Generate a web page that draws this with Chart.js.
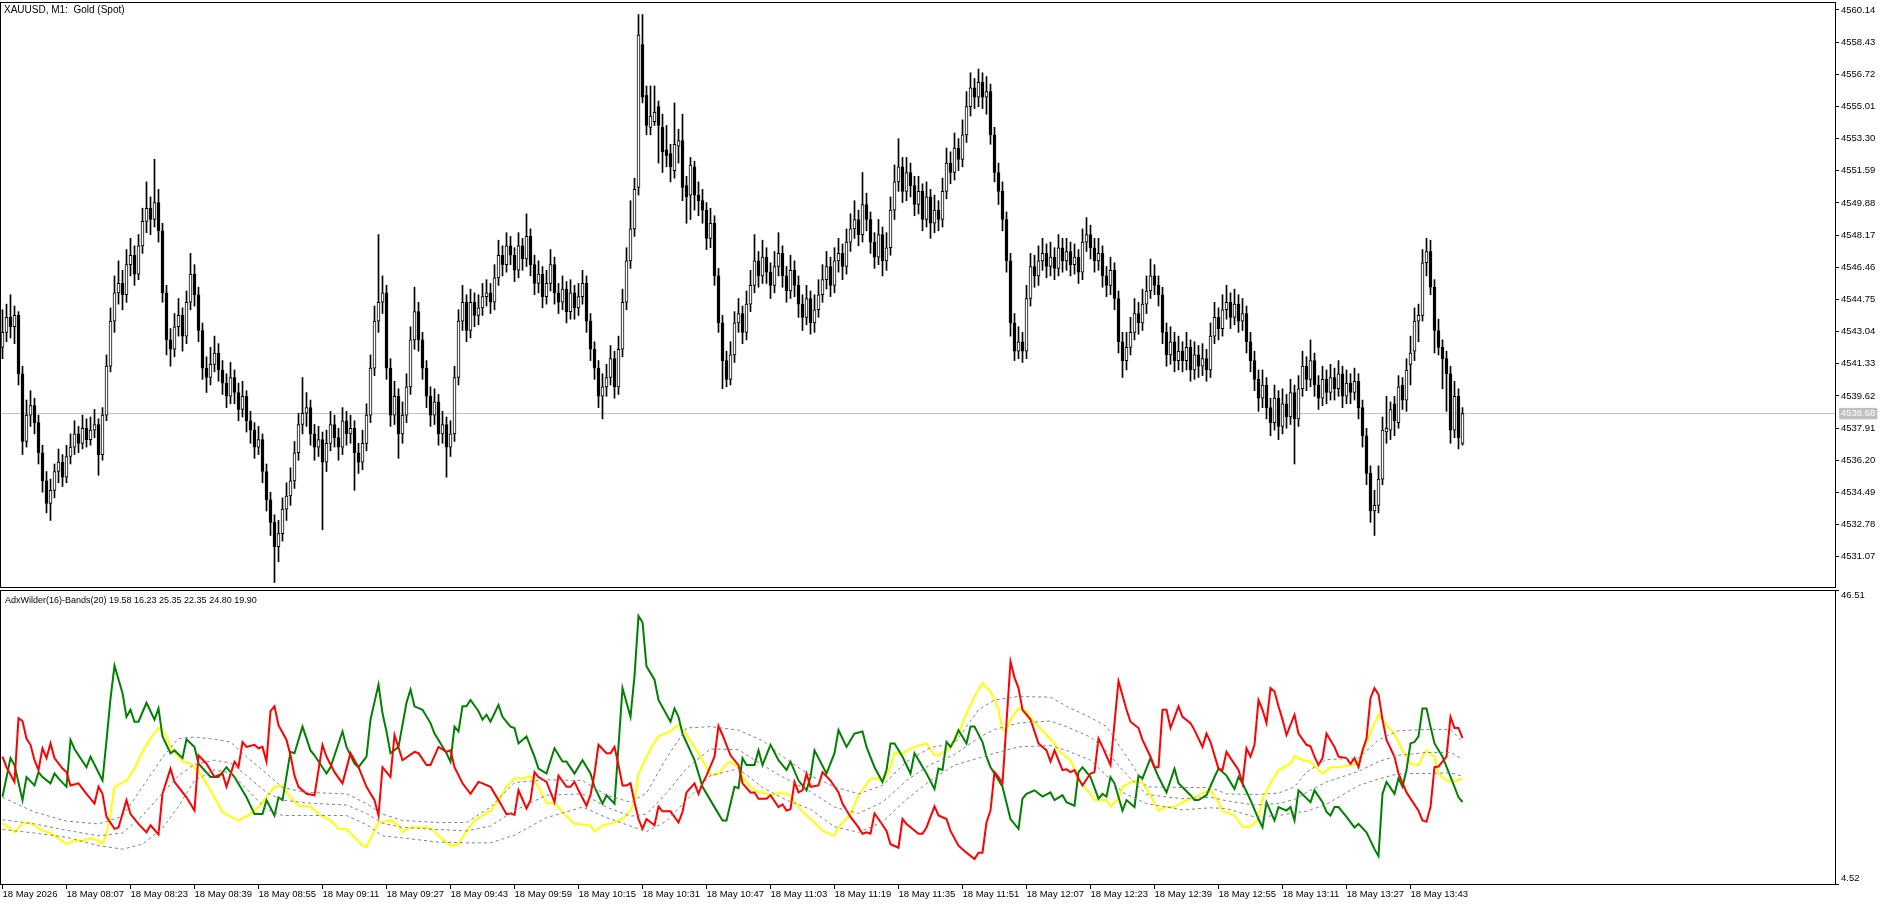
<!DOCTYPE html>
<html><head><meta charset="utf-8">
<script src="https://cdn.jsdelivr.net/npm/chart.js@4.4.1/dist/chart.umd.min.js"></script>
<style>
html,body{margin:0;padding:0;background:#fff;width:1888px;height:905px;overflow:hidden;}
canvas{position:absolute;left:0;}
#c1{top:0;}
#c2{top:589px;}
.lbl{position:absolute;font-family:"Liberation Sans",Arial,sans-serif;color:#000;white-space:pre;line-height:11px;}
</style></head><body>
<canvas id="c1" width="1888" height="588"></canvas>
<canvas id="c2" width="1888" height="316"></canvas>
<div class="lbl" style="left:4px;top:4px;font-size:10px">XAUUSD, M1:  Gold (Spot)</div>
<div class="lbl" style="left:5px;top:595px;font-size:9px">AdxWilder(16)-Bands(20) 19.58 16.23 25.35 22.35 24.80 19.90</div>
<script>
// ---------- DATA ----------
const timeLabels = ["18 May 2026","18 May 08:07","18 May 08:23","18 May 08:39","18 May 08:55","18 May 09:11","18 May 09:27","18 May 09:43","18 May 09:59","18 May 10:15","18 May 10:31","18 May 10:47","18 May 11:03","18 May 11:19","18 May 11:35","18 May 11:51","18 May 12:07","18 May 12:23","18 May 12:39","18 May 12:55","18 May 13:11","18 May 13:27","18 May 13:43"];
const timeTickBars = [0,16,32,48,64,80,96,112,128,144,160,176,192,208,224,240,256,272,288,304,320,336,352];
const priceTicks = [4531.07,4532.78,4534.49,4536.20,4537.91,4539.62,4541.33,4543.04,4544.75,4546.46,4548.17,4549.88,4551.59,4553.30,4555.01,4556.72,4558.43,4560.14];
const bidPrice = 4538.68;
const indMax = 46.51, indMin = 4.52;
const indScaleLabels = ["46.51","4.52"];

const opens = [
4542.2,4543.0,4543.8,4543.3,4543.9,4540.8,4537.2,4538.6,4539.1,4538.2,
4536.6,4535.1,4533.9,4534.6,4535.6,4536.1,4535.3,4536.4,4536.9,4537.6,
4537.1,4537.9,4537.3,4537.8,4538.1,4536.5,4538.6,4541.2,4543.6,4545.1,
4545.6,4545.0,4546.6,4547.1,4546.1,4547.6,4548.9,4549.6,4549.0,4549.9,
4548.4,4545.1,4542.6,4542.1,4543.3,4543.9,4542.8,4544.6,4546.1,4545.0,
4543.1,4541.1,4540.6,4541.3,4541.9,4541.0,4540.3,4539.6,4540.6,4539.8,
4538.9,4539.6,4538.3,4537.8,4536.9,4537.3,4535.6,4534.1,4532.9,4531.6,
4532.3,4533.6,4534.3,4535.1,4536.6,4538.1,4538.7,4539.0,4537.6,4536.9,
4537.3,4536.1,4537.1,4538.1,4537.4,4536.9,4538.3,4537.6,4537.9,4536.6,
4536.1,4537.1,4538.6,4541.1,4543.6,4544.6,4545.1,4541.1,4538.6,4539.6,
4537.6,4538.6,4540.1,4542.6,4544.1,4542.6,4541.1,4539.6,4538.6,4539.3,
4537.6,4538.1,4536.9,4537.6,4540.6,4543.6,4544.6,4543.1,4544.6,4543.9,
4544.3,4544.9,4545.1,4544.6,4545.9,4547.1,4546.6,4547.6,4547.1,4546.3,
4547.6,4546.9,4548.1,4546.6,4545.6,4546.1,4544.9,4545.6,4546.6,4545.1,
4544.6,4545.3,4544.1,4545.1,4544.3,4544.9,4545.6,4543.6,4542.1,4541.1,
4539.6,4540.1,4540.6,4541.6,4540.1,4542.1,4544.6,4546.8,4548.5,4550.7,
4558.3,4555.6,4553.9,4554.2,4555.0,4553.9,4552.7,4552.5,4551.6,4552.9,
4553.2,4550.8,4550.3,4551.8,4550.3,4550.0,4549.5,4548.0,4548.8,4546.0,
4543.5,4541.5,4540.5,4541.8,4543.5,4544.0,4543.0,4544.5,4545.5,4546.8,
4546.0,4547.0,4546.2,4545.5,4546.5,4547.2,4546.0,4545.2,4546.3,4545.5,
4544.5,4543.8,4544.8,4543.5,4544.2,4545.0,4545.8,4546.5,4545.5,4546.8,
4547.2,4546.5,4547.8,4548.5,4549.0,4548.2,4549.8,4549.0,4547.8,4547.0,
4548.2,4546.8,4547.5,4549.5,4551.0,4551.8,4550.5,4551.5,4550.8,4549.8,
4550.5,4549.0,4550.2,4548.8,4549.5,4549.0,4550.5,4552.0,4551.5,4552.8,
4552.2,4553.5,4555.0,4556.0,4555.5,4556.3,4555.5,4555.8,4553.5,4551.5,
4550.5,4549.0,4546.8,4543.5,4542.0,4542.5,4542.0,4544.8,4546.5,4546.0,
4546.8,4547.2,4546.5,4547.0,4546.4,4547.5,4546.8,4547.3,4546.6,4547.0,
4546.2,4547.8,4548.2,4547.5,4546.8,4547.2,4546.0,4545.5,4546.3,4544.8,
4542.5,4541.5,4542.2,4543.0,4544.0,4543.5,4544.5,4545.2,4546.0,4545.5,
4545.0,4543.0,4541.8,4542.5,4541.5,4542.0,4541.5,4542.2,4541.0,4541.8,
4541.2,4541.6,4541.0,4542.8,4543.8,4543.2,4544.2,4544.6,4543.8,4544.5,
4543.6,4544.0,4542.5,4541.5,4540.5,4539.5,4540.2,4539.0,4538.2,4539.5,
4538.0,4539.2,4538.5,4539.8,4538.4,4540.0,4541.2,4540.5,4541.5,4540.2,
4539.5,4540.5,4539.8,4540.6,4540.0,4540.8,4539.6,4540.3,4539.8,4540.4,
4539.0,4537.5,4535.5,4533.5,4533.8,4535.2,4537.7,4537.8,4539.2,4538.2,
4540.2,4539.4,4541.3,4542.0,4543.6,4543.9,4546.7,4547.3,4545.4,4543.1,
4542.2,4541.6,4540.8,4537.8,4539.6,4537.1];

const highs = [
4544.2,4544.5,4545.0,4544.4,4544.1,4541.2,4539.4,4539.9,4539.5,4538.6,
4537.0,4535.6,4535.2,4536.0,4536.8,4536.5,4537.0,4537.6,4538.3,4538.0,
4538.6,4538.4,4538.5,4538.9,4538.4,4539.0,4541.8,4544.3,4546.0,4546.8,
4546.3,4547.4,4548.0,4547.6,4548.2,4549.6,4551.0,4550.2,4552.2,4550.6,
4548.8,4545.5,4543.2,4544.0,4544.8,4544.3,4545.2,4547.2,4546.6,4545.4,
4543.5,4541.7,4542.2,4542.8,4542.4,4541.5,4540.8,4541.4,4541.0,4540.3,
4540.4,4539.9,4538.8,4538.2,4538.0,4537.6,4536.0,4534.5,4533.3,4533.0,
4534.2,4535.0,4535.8,4537.2,4538.7,4540.6,4539.8,4539.4,4538.1,4538.0,
4537.7,4537.8,4538.8,4538.6,4537.9,4539.0,4538.8,4538.6,4538.3,4537.1,
4537.8,4539.2,4541.8,4544.4,4548.2,4546.0,4545.5,4541.6,4540.4,4540.0,
4539.3,4540.8,4543.3,4545.4,4544.6,4543.0,4541.5,4540.1,4540.0,4539.7,
4538.8,4538.5,4538.3,4541.2,4544.2,4545.5,4545.0,4545.3,4545.1,4545.0,
4545.6,4545.8,4545.6,4546.6,4547.9,4547.6,4548.3,4548.1,4547.5,4548.3,
4548.0,4549.3,4548.5,4547.1,4546.8,4546.5,4546.3,4547.4,4547.0,4545.6,
4546.0,4545.7,4545.8,4545.5,4545.6,4546.3,4546.0,4544.0,4542.5,4541.5,
4540.8,4541.3,4542.3,4542.0,4542.8,4545.3,4547.5,4550.0,4551.2,4559.9,
4559.9,4556.1,4556.1,4556.1,4555.3,4554.6,4554.0,4553.0,4555.2,4553.8,
4554.6,4551.3,4552.3,4552.1,4551.0,4550.6,4549.9,4549.6,4549.2,4546.4,
4543.9,4542.0,4542.5,4544.1,4544.8,4544.4,4545.2,4546.3,4548.2,4547.3,
4547.9,4547.5,4546.7,4547.3,4548.3,4547.6,4546.5,4547.1,4546.8,4546.0,
4545.0,4545.5,4545.2,4545.0,4545.8,4546.6,4547.3,4547.0,4547.5,4548.0,
4547.7,4548.5,4549.3,4550.0,4549.5,4551.5,4550.4,4549.4,4548.3,4549.0,
4548.6,4548.3,4550.2,4551.9,4553.3,4552.3,4552.3,4552.0,4551.3,4551.3,
4550.9,4551.0,4550.6,4550.3,4550.0,4551.2,4552.8,4552.6,4553.6,4553.3,
4554.3,4555.8,4556.8,4556.5,4557.0,4556.8,4556.6,4556.2,4553.9,4552.0,
4551.0,4549.4,4547.2,4544.0,4543.3,4543.0,4545.5,4547.2,4547.1,4547.6,
4548.0,4547.7,4547.8,4547.5,4548.2,4548.0,4548.0,4547.8,4547.7,4547.4,
4548.5,4549.1,4548.7,4548.0,4548.0,4547.6,4546.5,4547.0,4546.7,4545.2,
4543.0,4543.0,4543.8,4544.8,4544.6,4545.3,4546.0,4546.9,4546.6,4546.0,
4545.4,4543.5,4543.3,4543.0,4542.8,4542.5,4543.0,4542.6,4542.5,4542.3,
4542.4,4542.1,4543.5,4544.6,4544.3,4545.0,4545.5,4545.1,4545.3,4545.0,
4544.8,4544.4,4543.0,4542.0,4541.0,4541.0,4540.6,4539.5,4540.2,4539.9,
4540.0,4539.7,4540.5,4540.2,4540.7,4542.0,4541.7,4542.6,4541.9,4540.7,
4541.2,4541.0,4541.3,4541.1,4541.5,4541.2,4541.0,4540.8,4541.1,4540.8,
4539.4,4537.9,4535.9,4534.6,4535.9,4538.5,4539.6,4539.3,4539.6,4540.7,
4540.6,4541.6,4542.8,4544.3,4544.5,4547.4,4548.0,4547.9,4545.8,4543.7,
4542.6,4542.0,4541.2,4540.4,4540.0,4539.0];

const lows = [
4541.6,4542.5,4542.7,4542.4,4540.2,4536.5,4536.9,4538.0,4537.6,4536.0,
4534.5,4533.4,4533.0,4534.2,4535.0,4534.8,4535.0,4536.0,4536.5,4536.6,
4536.8,4536.9,4537.0,4537.4,4535.4,4536.2,4538.3,4540.9,4543.0,4544.5,
4544.2,4544.6,4546.0,4545.5,4545.8,4547.2,4548.3,4548.2,4548.6,4547.8,
4544.6,4541.8,4541.2,4541.7,4542.8,4542.0,4542.4,4544.2,4544.4,4542.5,
4540.5,4539.8,4540.2,4540.9,4540.4,4539.7,4539.0,4539.2,4539.2,4538.3,
4538.5,4537.7,4537.1,4536.3,4536.5,4535.0,4533.5,4532.2,4529.7,4530.8,
4531.9,4533.0,4533.8,4534.7,4536.2,4537.6,4538.0,4537.0,4536.2,4536.4,
4532.5,4535.6,4536.7,4536.9,4536.2,4536.5,4537.0,4537.1,4534.6,4535.5,
4535.7,4536.7,4538.2,4540.7,4543.0,4544.0,4540.5,4538.0,4538.1,4536.3,
4537.1,4538.2,4539.7,4542.1,4542.0,4540.5,4539.0,4538.0,4538.1,4537.0,
4537.1,4535.3,4536.4,4537.2,4540.2,4543.1,4542.5,4542.7,4543.3,4543.4,
4543.9,4544.4,4544.0,4544.2,4545.5,4546.0,4546.2,4546.6,4545.7,4545.9,
4546.3,4546.5,4546.0,4545.0,4545.1,4544.3,4544.5,4545.2,4544.5,4544.0,
4544.2,4543.5,4543.7,4543.7,4543.9,4544.5,4543.0,4541.5,4540.5,4539.0,
4538.4,4539.6,4540.2,4539.5,4539.7,4541.7,4544.2,4546.4,4548.1,4550.3,
4555.2,4553.5,4553.5,4554.0,4552.0,4551.5,4551.8,4551.0,4551.2,4552.0,
4550.0,4548.8,4549.0,4549.5,4549.2,4548.8,4547.4,4547.5,4545.5,4543.0,
4540.0,4540.1,4540.2,4541.4,4543.0,4542.4,4542.6,4544.1,4545.1,4545.4,
4545.6,4545.6,4544.8,4545.1,4546.0,4545.4,4544.6,4544.8,4544.9,4543.8,
4543.1,4543.4,4542.9,4543.0,4543.8,4544.6,4545.3,4544.9,4545.1,4546.2,
4545.8,4546.1,4547.3,4548.0,4547.6,4547.8,4548.4,4547.2,4546.4,4546.6,
4546.0,4546.3,4547.1,4549.0,4550.5,4549.9,4550.0,4550.2,4549.2,4549.3,
4548.4,4548.6,4548.0,4548.3,4548.4,4548.6,4550.1,4550.9,4551.1,4551.6,
4551.8,4553.1,4554.5,4554.9,4555.0,4554.9,4554.6,4553.0,4551.0,4549.8,
4548.4,4546.2,4542.8,4541.5,4541.6,4541.4,4541.6,4544.4,4545.4,4545.5,
4546.3,4545.9,4546.0,4545.8,4546.0,4546.2,4546.3,4546.0,4546.1,4545.6,
4545.8,4547.3,4546.9,4546.2,4546.3,4545.4,4544.9,4545.0,4544.2,4541.9,
4540.6,4541.0,4541.8,4542.6,4542.9,4543.1,4544.0,4544.8,4545.0,4544.4,
4542.4,4541.2,4541.3,4540.9,4541.0,4540.9,4541.0,4540.4,4540.5,4540.6,
4540.7,4540.4,4540.6,4542.4,4542.6,4542.8,4543.7,4543.2,4543.4,4543.0,
4543.1,4541.9,4540.9,4539.9,4538.8,4539.0,4538.4,4537.5,4537.8,4537.3,
4537.6,4537.9,4538.1,4536.0,4538.0,4539.6,4539.9,4540.1,4539.6,4538.9,
4539.1,4539.2,4539.4,4539.4,4539.6,4539.0,4539.2,4539.2,4539.4,4538.4,
4536.9,4534.9,4532.9,4532.2,4533.4,4534.9,4537.1,4537.3,4537.5,4537.9,
4538.9,4538.8,4540.2,4541.5,4542.5,4543.6,4546.0,4545.0,4541.9,4541.8,
4540.0,4538.8,4537.1,4537.4,4536.8,4537.0];

const closes = [
4543.0,4543.8,4543.3,4543.9,4540.8,4537.2,4538.6,4539.1,4538.2,4536.6,
4535.1,4533.9,4534.6,4535.6,4536.1,4535.3,4536.4,4536.9,4537.6,4537.1,
4537.9,4537.3,4537.8,4538.1,4536.5,4538.6,4541.2,4543.6,4545.1,4545.6,
4545.0,4546.6,4547.1,4546.1,4547.6,4548.9,4549.6,4549.0,4549.9,4548.4,
4545.1,4542.6,4542.1,4543.3,4543.9,4542.8,4544.6,4546.1,4545.0,4543.1,
4541.1,4540.6,4541.3,4541.9,4541.0,4540.3,4539.6,4540.6,4539.8,4538.9,
4539.6,4538.3,4537.8,4536.9,4537.3,4535.6,4534.1,4532.9,4531.6,4532.3,
4533.6,4534.3,4535.1,4536.6,4538.1,4538.7,4539.0,4537.6,4536.9,4537.3,
4536.1,4537.1,4538.1,4537.4,4536.9,4538.3,4537.6,4537.9,4536.6,4536.1,
4537.1,4538.6,4541.1,4543.6,4544.6,4545.1,4541.1,4538.6,4539.6,4537.6,
4538.6,4540.1,4542.6,4544.1,4542.6,4541.1,4539.6,4538.6,4539.3,4537.6,
4538.1,4536.9,4537.6,4540.6,4543.6,4544.6,4543.1,4544.6,4543.9,4544.3,
4544.9,4545.1,4544.6,4545.9,4547.1,4546.6,4547.6,4547.1,4546.3,4547.6,
4546.9,4548.1,4546.6,4545.6,4546.1,4544.9,4545.6,4546.6,4545.1,4544.6,
4545.3,4544.1,4545.1,4544.3,4544.9,4545.6,4543.6,4542.1,4541.1,4539.6,
4540.1,4540.6,4541.6,4540.1,4542.1,4544.6,4546.8,4548.5,4550.6,4558.8,
4555.5,4554.0,4554.5,4554.7,4554.0,4552.6,4552.4,4551.8,4553.0,4553.2,
4550.7,4550.2,4551.9,4550.3,4550.0,4549.5,4548.0,4548.8,4546.0,4543.5,
4541.5,4540.5,4541.8,4543.5,4544.0,4543.0,4544.5,4545.5,4546.8,4546.0,
4547.0,4546.2,4545.5,4546.5,4547.2,4546.0,4545.2,4546.3,4545.5,4544.5,
4543.8,4544.8,4543.5,4544.2,4545.0,4545.8,4546.5,4545.5,4546.8,4547.2,
4546.5,4547.8,4548.5,4549.0,4548.2,4549.8,4549.0,4547.8,4547.0,4548.2,
4546.8,4547.5,4549.5,4551.0,4551.8,4550.5,4551.5,4550.8,4549.8,4550.5,
4549.0,4550.2,4548.8,4549.5,4549.0,4550.5,4552.0,4551.5,4552.8,4552.2,
4553.5,4555.0,4556.0,4555.5,4556.3,4555.5,4555.8,4553.5,4551.5,4550.5,
4549.0,4546.8,4543.5,4542.0,4542.5,4542.0,4544.8,4546.5,4546.0,4546.8,
4547.2,4546.5,4547.0,4546.4,4547.5,4546.8,4547.3,4546.6,4547.0,4546.2,
4547.8,4548.2,4547.5,4546.8,4547.2,4546.0,4545.5,4546.3,4544.8,4542.5,
4541.5,4542.2,4543.0,4544.0,4543.5,4544.5,4545.2,4546.0,4545.5,4545.0,
4543.0,4541.8,4542.5,4541.5,4542.0,4541.5,4542.2,4541.0,4541.8,4541.2,
4541.6,4541.0,4542.8,4543.8,4543.2,4544.2,4544.6,4543.8,4544.5,4543.6,
4544.0,4542.5,4541.5,4540.5,4539.5,4540.2,4539.0,4538.2,4539.5,4538.0,
4539.2,4538.5,4539.8,4538.4,4540.0,4541.2,4540.5,4541.5,4540.2,4539.5,
4540.5,4539.8,4540.6,4540.0,4540.8,4539.6,4540.3,4539.8,4540.4,4539.0,
4537.5,4535.5,4533.5,4533.8,4535.2,4537.8,4537.9,4538.9,4538.3,4540.1,
4539.4,4541.0,4541.9,4543.6,4543.9,4546.7,4547.3,4545.4,4543.1,4542.2,
4541.6,4540.8,4537.8,4539.6,4537.4,4538.68];

// indicator lines: [bar, value]
const adxLine = [[0,13.2],[2,12.4],[3,11.9],[5,13.2],[7,13.2],[8,12.9],[10,12.1],[12,11.8],[14,11.0],[16,10.2],[18,10.7],[20,10.7],[22,11.0],[24,10.7],[25,10.3],[26,11.7],[27,14.5],[28,18.4],[31,19.3],[33,21.0],[35,23.4],[37,25.3],[39,26.8],[41,25.6],[42,24.1],[44,22.7],[45,22.0],[47,21.7],[49,20.5],[51,18.9],[53,16.9],[55,14.8],[57,14.1],[59,13.6],[62,14.5],[64,15.5],[66,16.9],[68,18.4],[70,18.5],[72,16.9],[74,15.7],[77,15.6],[79,14.5],[82,13.6],[84,12.4],[86,12.4],[88,11.2],[90,10.0],[91,9.8],[94,13.3],[97,13.6],[99,12.9],[100,11.9],[102,12.6],[106,12.6],[108,12.1],
[109,11.4],[112,10.0],[114,10.2],[116,12.1],[118,13.6],[122,15.0],[124,16.5],[126,18.4],[128,19.6],[130,19.6],[132,19.9],[134,18.4],[136,16.1],[138,16.1],[140,14.8],[143,13.1],[144,13.1],[147,12.9],[148,12.0],[150,12.9],[153,13.3],[155,13.8],[157,15.0],[158,16.2],[159,20.3],[161,22.7],[163,24.8],[164,25.6],[167,26.3],[168,26.8],[169,27.3],[171,25.8],[173,24.1],[176,21.2],[177,20.0],[179,20.3],[181,21.7],[182,22.0],[184,21.2],[185,19.8],[187,18.4],[189,17.6],[191,17.4],[192,17.2],[194,17.5],[196,17.4],[197,17.2],[199,15.5],[201,14.3],[203,13.3],[205,12.1],[208,11.4],[209,12.6],[212,14.5],[214,17.2],[217,19.6],[219,19.6],[220,19.1],[222,21.2],[223,23.2],[225,23.2],[228,24.1],[231,24.6],[233,22.9],[234,22.9],[237,23.9],[239,26.0],
[241,28.9],[243,31.3],[245,33.2],[247,32.0],[249,29.4],[250,26.5],[251,26.5],[252,28.0],[254,29.6],[256,29.2],[257,28.2],[259,27.0],[261,25.8],[263,24.6],[264,23.6],[267,22.2],[268,21.0],[269,19.3],[272,17.4],[273,16.5],[276,16.5],[277,15.6],[279,16.7],[280,18.4],[283,19.3],[285,18.9],[287,17.2],[289,15.0],[291,15.5],[293,15.5],[295,16.2],[298,16.9],[300,17.5],[302,17.9],[304,16.2],[305,15.0],[308,14.3],[310,12.7],[312,12.7],[314,13.8],[315,16.7],[317,18.9],[319,20.8],[322,21.7],[323,22.8],[325,22.2],[327,22.0],[329,20.8],[330,20.3],[332,21.2],[334,21.2],[338,21.6],[339,22.0],[341,24.8],[343,27.5],[344,28.7],[346,27.2],[348,26.0],[350,23.6],[352,21.7],[354,21.5],[355,22.7],[356,23.6],[358,22.7],[359,20.3],[361,19.3],[363,19.2],[365,19.58]];

const plusDI = [[0,17.0],[2,22.5],[3,21.5],[5,16.5],[6,19.8],[8,18.6],[9,20.5],[10,19.8],[12,18.9],[13,20.3],[14,19.6],[16,18.4],[17,25.1],[18,23.8],[21,21.2],[22,22.7],[25,19.3],[26,25.0],[27,31.0],[28,35.7],[30,31.8],[31,28.4],[32,29.4],[33,27.7],[34,27.7],[36,30.4],[38,28.0],[39,29.6],[40,25.6],[42,23.2],[43,23.6],[45,22.5],[46,25.2],[48,24.1],[49,21.7],[52,19.8],[54,19.8],[56,21.2],[58,19.8],[61,16.9],[63,14.5],[65,14.5],[66,16.5],[68,14.3],[69,16.9],[70,16.5],[72,23.4],[73,23.2],[75,27.0],[77,23.6],[78,22.9],[81,20.3],[82,21.2],[85,26.3],[86,24.1],[88,21.7],[89,21.2],[91,22.7],[92,28.0],[94,33.0],[95,28.9],[96,26.3],[97,23.2],[99,24.1],[101,30.4],[102,32.3],[103,29.9],[105,29.4],[107,27.5],[108,26.0],
[109,25.1],[111,23.2],[112,22.0],[113,27.0],[114,26.3],[115,29.9],[116,29.9],[117,30.8],[119,29.2],[120,28.0],[121,28.7],[122,27.7],[124,30.1],[125,28.4],[127,27.0],[128,26.8],[129,24.6],[131,25.6],[133,22.7],[134,21.0],[136,20.3],[138,23.9],[140,22.0],[141,22.0],[143,20.3],[145,22.2],[147,20.3],[148,18.4],[150,16.0],[151,17.2],[153,16.0],[155,32.5],[157,28.4],[158,34.2],[159,42.8],[160,41.9],[161,35.6],[163,33.7],[164,30.8],[167,27.7],[168,29.6],[169,28.4],[170,26.0],[173,22.2],[175,18.4],[178,15.5],[180,13.6],[181,13.6],[183,18.4],[184,18.2],[185,22.5],[186,21.5],[188,21.5],[189,23.6],[190,21.5],[192,24.4],[194,22.2],[196,20.8],[197,22.0],[199,19.3],[201,17.9],[202,19.8],[203,23.6],[206,20.3],[208,23.2],[209,26.5],[211,24.1],[213,26.0],[215,26.3],[216,24.1],[218,21.2],[220,19.1],[221,20.8],[222,24.6],[223,24.6],[225,22.7],[227,20.3],[228,23.2],[231,20.3],[233,18.1],[234,21.0],[235,20.8],[236,24.8],[237,24.1],[238,25.1],[239,26.5],
[241,24.6],[242,27.0],[243,27.0],[245,24.8],[246,22.7],[247,21.2],[248,20.3],[250,18.4],[252,13.8],[254,12.4],[255,16.7],[256,17.4],[258,17.9],[260,17.0],[262,17.6],[263,16.5],[265,17.2],[266,16.2],[268,15.7],[269,20.5],[270,21.2],[272,19.8],[274,16.7],[275,17.4],[276,17.0],[277,19.8],[278,18.9],[280,15.0],[281,16.5],[283,15.5],[284,20.0],[285,19.6],[287,22.5],[289,19.8],[291,17.6],[293,21.0],[294,18.9],[297,17.2],[298,16.5],[299,16.5],[301,17.2],[303,19.8],[304,21.0],[306,20.0],[308,18.1],[309,19.8],[310,18.9],[312,16.5],[314,13.8],[315,12.6],[316,16.2],[318,13.6],[319,15.5],[321,15.0],[322,15.5],[323,13.6],[324,17.9],[327,16.2],[328,17.9],[330,16.2],[331,14.8],[332,14.3],[333,15.5],[334,15.5],[336,14.1],[338,12.6],[339,13.1],[341,11.9],[343,9.5],[344,8.5],[345,17.4],[346,19.1],[348,17.4],[349,19.6],[350,18.4],[351,20.8],[352,24.6],[353,24.8],[354,25.6],[355,29.6],[356,29.6],[357,27.0],[358,24.6],[360,22.7],[363,18.4],[364,16.9],[365,16.23]];

const minusDI = [[0,22.7],[1,21.2],[3,19.1],[4,28.2],[5,27.8],[6,25.3],[7,24.4],[8,22.2],[9,20.8],[10,23.9],[11,22.5],[12,24.6],[13,22.5],[15,21.0],[16,20.5],[17,18.6],[19,18.9],[21,17.4],[23,16.0],[24,18.4],[25,17.4],[26,14.1],[28,12.4],[29,12.6],[31,16.5],[32,14.5],[34,13.1],[36,11.9],[37,12.9],[39,11.6],[40,17.4],[42,21.0],[43,19.1],[46,16.9],[48,15.0],[49,22.9],[51,21.7],[53,19.8],[55,20.3],[56,18.4],[58,22.0],[59,21.2],[60,24.8],[61,24.1],[63,24.4],[64,23.9],[65,24.1],[66,22.0],[67,29.2],[68,29.9],[69,27.2],[71,25.1],[72,22.9],[73,20.0],[74,18.4],[76,17.4],[78,17.2],[80,24.4],[81,22.7],[83,20.5],[85,18.9],[87,23.2],[89,21.2],[91,18.4],[93,16.5],[94,14.3],[95,21.2],[96,20.5],[97,19.8],[98,25.8],[100,22.2],[103,23.4],[104,23.2],[106,21.5],[107,21.5],
[109,24.1],[111,23.4],[112,23.6],[113,21.2],[115,18.9],[117,17.4],[119,19.1],[120,18.9],[122,18.4],[124,16.5],[126,14.5],[127,14.6],[128,14.4],[129,17.9],[131,15.3],[132,16.5],[133,20.5],[134,19.8],[136,19.1],[138,16.2],[139,20.0],[141,18.4],[142,18.4],[143,19.1],[144,17.9],[146,15.7],[147,17.2],[148,20.3],[149,24.4],[151,23.2],[152,23.2],[153,24.1],[154,21.5],[155,18.6],[156,18.6],[157,18.9],[158,16.2],[159,13.8],[160,12.4],[161,13.8],[163,12.9],[164,15.6],[165,14.9],[167,14.9],[169,13.3],[170,14.8],[171,17.6],[173,18.9],[174,17.4],[175,18.9],[176,20.0],[178,22.7],[179,27.1],[180,25.8],[182,22.9],[184,21.5],[185,18.9],[187,17.6],[188,17.6],[189,16.7],[191,16.7],[192,17.2],[194,15.5],[195,15.9],[196,15.0],[197,15.2],[198,19.1],[199,17.6],[200,17.9],[201,20.3],[202,18.4],[204,18.6],[205,20.5],[207,19.3],[209,17.6],[210,16.0],[212,14.1],[214,12.6],[215,11.7],[216,11.9],[217,11.7],[218,14.6],[219,13.8],[221,12.1],[222,10.2],[224,9.7],[225,13.8],[226,13.1],[229,11.7],[230,11.7],[231,12.6],[233,15.6],[234,14.3],[236,13.8],[237,12.1],[239,10.0],
[241,9.0],[243,8.1],[244,9.0],[245,9.0],[246,13.3],[247,15.0],[248,20.5],[249,19.8],[250,18.9],[252,36.3],[253,34.0],[254,32.5],[255,29.4],[257,28.0],[259,24.6],[261,23.6],[262,22.0],[263,23.6],[265,20.8],[266,20.9],[267,20.5],[268,20.8],[269,19.6],[270,18.6],[272,20.3],[273,20.5],[274,25.3],[275,24.1],[277,21.5],[278,27.5],[279,33.5],[281,29.4],[282,27.7],[284,26.8],[285,25.1],[287,22.7],[288,21.2],[289,21.2],[290,29.4],[291,29.4],[292,26.8],[294,29.9],[295,28.4],[297,27.5],[298,26.5],[300,24.1],[301,26.0],[302,24.8],[304,21.0],[305,20.8],[306,23.4],[307,22.5],[309,20.8],[310,18.9],[311,23.9],[312,22.7],[313,24.4],[314,30.8],[315,29.4],[316,27.5],[317,32.5],[318,32.0],[319,29.9],[320,28.0],[321,25.8],[323,28.7],[324,26.0],[326,24.4],[327,24.2],[328,22.7],[329,21.5],[330,22.5],[331,26.0],[333,24.1],[334,22.7],[336,22.5],[337,21.7],[338,22.5],[339,21.2],[340,23.6],[341,25.3],[342,31.1],[343,32.5],[344,31.6],[345,28.0],[346,25.1],[348,22.7],[349,20.3],[351,17.6],[354,15.0],[355,13.6],[356,13.4],[357,15.5],[358,21.2],[359,21.3],[361,22.7],[362,28.4],[363,26.8],[364,26.8],[365,25.35]];

const bandUpper = [[0,16.9],[8,14.8],[16,13.5],[24,13.1],[30,14.2],[35,18.4],[40,22.6],[44,25.3],[48,25.5],[53,25.2],[57,24.8],[61,22.7],[66,20.3],[70,18.3],[76,17.6],[86,17.4],[91,16.0],[95,14.5],[100,13.6],[109,13.3],[116,13.3],[122,15.5],[128,19.0],[136,19.4],[145,19.3],[151,17.2],[157,16.2],[161,17.5],[166,22.5],[171,26.8],[177,27.0],[184,26.5],[190,25.0],[196,22.3],[202,20.0],[208,18.4],[214,17.4],[220,18.6],[226,22.0],[232,24.0],[238,24.6],[244,29.4],[248,30.8],[254,31.3],[262,31.2],[266,29.9],[272,28.3],[276,27.0],[280,23.6],[286,18.4],[295,18.3],[302,18.3],[306,17.4],[313,17.3],[319,17.5],[323,18.4],[326,20.5],[331,22.3],[339,22.5],[344,25.1],[349,26.4],[356,26.6],[362,26.6],[365,24.80]];
const bandMid = [[0,13.7],[8,13.1],[16,12.2],[24,11.4],[30,11.8],[35,14.3],[40,17.5],[44,20.0],[48,21.6],[53,22.2],[57,21.8],[61,20.0],[66,17.6],[70,16.5],[76,16.1],[86,15.8],[91,14.6],[95,13.2],[100,12.6],[109,12.3],[116,12.1],[122,12.8],[128,15.0],[136,17.2],[145,17.4],[151,15.5],[157,14.2],[161,14.5],[166,17.5],[171,21.0],[177,23.8],[184,23.7],[190,21.5],[196,19.5],[202,17.7],[208,15.5],[214,14.6],[220,16.2],[226,19.3],[232,21.6],[238,23.0],[244,25.4],[248,26.6],[254,27.5],[262,27.8],[266,27.0],[272,25.5],[276,23.5],[280,20.8],[286,17.3],[295,16.7],[302,16.9],[306,16.4],[313,15.8],[319,16.0],[323,16.6],[326,17.6],[331,19.1],[339,20.6],[344,22.0],[349,22.9],[356,23.3],[362,23.3],[365,22.35]];
const bandLower = [[0,12.3],[8,11.8],[16,11.2],[24,10.0],[30,9.5],[35,10.2],[40,12.5],[44,15.6],[48,19.3],[53,20.8],[57,20.4],[61,18.1],[66,15.2],[70,14.3],[76,14.3],[86,14.3],[91,13.0],[95,11.4],[100,11.1],[109,10.5],[116,10.4],[122,10.4],[128,11.5],[136,14.0],[145,15.5],[151,14.0],[157,12.8],[161,12.0],[166,13.5],[171,16.5],[177,20.0],[184,21.0],[190,18.3],[196,16.5],[202,15.2],[208,12.7],[214,11.9],[220,13.4],[226,16.6],[232,19.3],[238,21.5],[244,22.5],[248,23.2],[254,24.1],[262,24.3],[266,23.6],[272,22.2],[276,20.0],[280,17.6],[286,16.0],[295,15.1],[302,15.4],[306,15.3],[313,14.1],[319,14.3],[323,14.7],[326,14.9],[331,15.9],[339,18.6],[344,19.5],[349,20.3],[356,20.3],[362,20.4],[365,19.90]];

// ---------- CHARTS ----------
const FONT = {family:"'Liberation Sans', Arial, sans-serif", size:9.5};
const xMin = -0.375, xMax = 458.125;
const toXY = a => a.map(p => ({x:p[0], y:p[1]}));
const noPad = s => { s.paddingTop = 0; s.paddingBottom = 0; s.paddingLeft = 0; s.paddingRight = 0; };

const framePlugin = {
  id:'frame',
  afterDraw(chart){
    const {ctx, chartArea:a} = chart;
    ctx.save(); ctx.strokeStyle='#000'; ctx.lineWidth=1;
    ctx.strokeRect(a.left-0.5, a.top+0.5, a.right-a.left+1, a.bottom-a.top);
    ctx.restore();
  }
};

const wicks = highs.map((h,i)=>({x:i, y:[lows[i], h]}));
const bodies = closes.map((c,i)=>({x:i, y:[opens[i], c]}));

new Chart(document.getElementById('c1'), {
  type:'bar',
  data:{datasets:[
    {type:'line', data:[{x:xMin,y:bidPrice},{x:xMax,y:bidPrice}], borderColor:'#c0c0c0', borderWidth:1, pointRadius:0, order:3},
    {type:'bar', data:wicks, backgroundColor:'#000', borderWidth:0, barThickness:1, grouped:false, order:2},
    {type:'bar', data:bodies, backgroundColor:ctx => {const d=ctx.raw; return d && d.y[1] > d.y[0] ? '#ffffff' : '#000000';}, borderColor:'#000', borderWidth:1, borderSkipped:false, barThickness:3, grouped:false, order:1}
  ]},
  options:{
    responsive:false, animation:false, devicePixelRatio:1, events:[],
    layout:{padding:{left:1, top:2, right:0, bottom:1}},
    plugins:{legend:{display:false}, tooltip:{enabled:false}},
    scales:{
      x:{type:'linear', min:xMin, max:xMax, display:false, offset:false},
      y:{position:'right', min:4529.46, max:4560.565, beginAtZero:false,
        afterBuildTicks:s => { s.ticks = priceTicks.concat([bidPrice]).sort((a,b)=>a-b).map(v=>({value:v})); },
        afterFit:s => { s.width = 53; noPad(s); },
        border:{display:true, color:'#000', width:1},
        grid:{drawOnChartArea:false, drawTicks:true, tickLength:4, color:'#000',
          tickColor:ctx => (ctx.tick && ctx.tick.value === bidPrice) ? 'rgba(0,0,0,0)' : '#000'},
        ticks:{autoSkip:false, padding:2, font:FONT,
          color:ctx => (ctx.tick && ctx.tick.value === bidPrice) ? '#ffffff' : '#000000',
          showLabelBackdrop:ctx => !!(ctx.tick && ctx.tick.value === bidPrice),
          backdropColor:'#c0c0c0', backdropPadding:{top:0,bottom:0,left:2,right:2},
          callback:v => v.toFixed(2)}
      }
    }
  },
  plugins:[framePlugin]
});

const indTicks = [indMin, 5.31, 45.8, indMax];
new Chart(document.getElementById('c2'), {
  type:'line',
  data:{datasets:[
    {data:toXY(adxLine), borderColor:'#ffff00', borderWidth:2, pointRadius:0, tension:0, order:6},
    {data:toXY(plusDI), borderColor:'#008000', borderWidth:2, pointRadius:0, tension:0, order:5},
    {data:toXY(minusDI), borderColor:'#ff0000', borderWidth:2, pointRadius:0, tension:0, order:4},
    {data:toXY(bandMid), borderColor:'#808080', borderWidth:1, borderDash:[3,3], pointRadius:0, tension:0, order:3},
    {data:toXY(bandUpper), borderColor:'#808080', borderWidth:1, borderDash:[3,3], pointRadius:0, tension:0, order:2},
    {data:toXY(bandLower), borderColor:'#808080', borderWidth:1, borderDash:[3,3], pointRadius:0, tension:0, order:1}
  ]},
  options:{
    responsive:false, animation:false, devicePixelRatio:1, events:[],
    layout:{padding:{left:1, top:1, right:0, bottom:0}},
    plugins:{legend:{display:false}, tooltip:{enabled:false}},
    scales:{
      x:{type:'linear', position:'bottom', min:xMin, max:xMax, offset:false,
        afterBuildTicks:s => { s.ticks = timeTickBars.map(v=>({value:v})); },
        afterFit:s => { s.height = 21; noPad(s); },
        border:{display:true, color:'#000', width:1},
        grid:{drawOnChartArea:false, drawTicks:true, tickLength:5, color:'#000'},
        ticks:{autoSkip:false, maxRotation:0, minRotation:0, align:'start', padding:0, font:FONT, color:'#000',
          callback:(v,i) => timeLabels[i]}
      },
      y:{position:'right', min:indMin, max:indMax, beginAtZero:false,
        afterBuildTicks:s => { s.ticks = indTicks.map(v=>({value:v})); },
        afterFit:s => { s.width = 53; noPad(s); },
        border:{display:true, color:'#000', width:1},
        grid:{drawOnChartArea:false, drawTicks:true, tickLength:4, color:'#000',
          tickColor:ctx => (ctx.tick && (ctx.tick.value === indMin || ctx.tick.value === indMax)) ? '#000' : 'rgba(0,0,0,0)'},
        ticks:{autoSkip:false, padding:2, font:FONT, color:'#000',
          callback:(v) => v === 45.8 ? indScaleLabels[0] : (v === 5.31 ? indScaleLabels[1] : '')}
      }
    }
  },
  plugins:[framePlugin]
});
</script>
</body></html>
